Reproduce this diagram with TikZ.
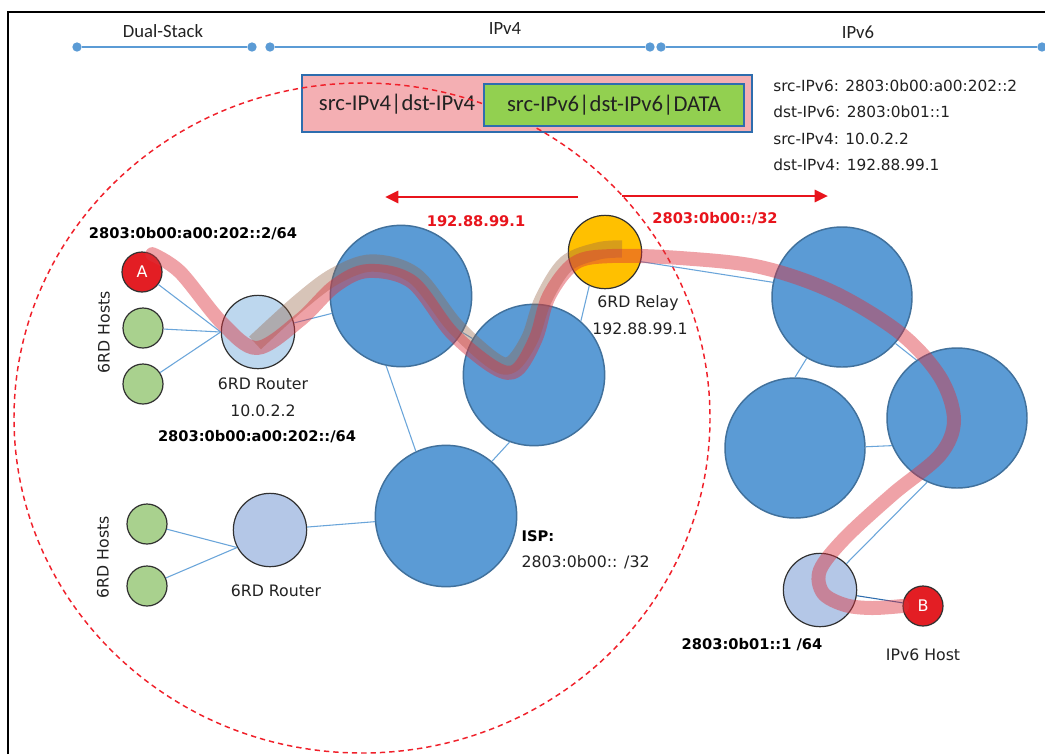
\documentclass[tikz,border=0pt]{standalone}
\usepackage{fontspec}
\setmainfont{DejaVu Sans}
\newfontfamily\calib{Carlito}
\usetikzlibrary{arrows.meta}

\definecolor{coreblue}{HTML}{5B9BD5}
\definecolor{coreedge}{HTML}{41719C}
\definecolor{linkblue}{HTML}{6AA5DA}
\definecolor{rtrblue}{HTML}{B4C7E7}
\definecolor{rtrpale}{HTML}{BDD7EE}
\definecolor{hostgreen}{HTML}{A9D18E}
\definecolor{endred}{HTML}{E31E24}
\definecolor{relayyellow}{HTML}{FFC000}
\definecolor{edgegray}{HTML}{303030}
\definecolor{pinkbox}{HTML}{F4AFB3}
\definecolor{greenbox}{HTML}{92D050}
\definecolor{boxedge}{HTML}{2E6DAE}
\definecolor{routered}{RGB}{220,50,60}
\definecolor{tunneltan}{RGB}{150,100,70}
\definecolor{arrowred}{HTML}{E8141C}
\definecolor{dashred}{HTML}{F0202A}
\definecolor{textgray}{HTML}{222222}

\tikzset{
  link/.style={draw=linkblue, line width=0.8pt},
  core/.style={circle, draw=coreedge, fill=coreblue, line width=1.1pt,
    minimum size=#1, inner sep=0pt},
  core/.default=106pt,
  rtr/.style={circle, draw=edgegray, fill=rtrblue, line width=0.9pt,
    minimum size=55pt, inner sep=0pt},
  host/.style={circle, draw=edgegray, fill=hostgreen, line width=0.9pt,
    minimum size=30pt, inner sep=0pt},
  endhost/.style={circle, draw=edgegray, fill=endred, line width=0.9pt,
    minimum size=30pt, inner sep=0pt, text=white,
    font=\fontsize{12}{12}\selectfont},
  lbl/.style={font=\fontsize{11.8}{13}\selectfont, text=textgray, inner sep=1pt},
  addr/.style={font=\bfseries\fontsize{11}{13}\selectfont, text=black, inner sep=1pt},
  redlbl/.style={font=\bfseries\fontsize{11}{13}\selectfont, text=arrowred, inner sep=1pt},
  info/.style={font=\fontsize{11.5}{13}\selectfont, text=textgray, anchor=west, inner sep=0pt},
  zone/.style={font=\calib\fontsize{14}{16}\selectfont, text=textgray, inner sep=1pt},
  pkt/.style={font=\calib\fontsize{17}{19}\selectfont, text=textgray, inner sep=0pt},
  route/.style={line width=10.5pt, draw=routered, draw opacity=0.45,
    line cap=round, line join=round},
  tunnel/.style={line width=13pt, draw=tunneltan, draw opacity=0.38,
    line cap=butt, line join=round},
  flow/.style={draw=arrowred, line width=2.2pt, -{Triangle[length=10pt,width=9pt]}},
  span/.style={draw=coreblue, line width=1.1pt},
  tick/.style={circle, fill=coreblue, inner sep=0pt, minimum size=7pt},
}

\begin{document}
\begin{tikzpicture}[x=0.75pt,y=-0.75pt]
\useasboundingbox (0,0) rectangle (1045,754);
\fill[white] (0,0) rectangle (1045,754);

% outer frame (only its top and left edges fall inside the page)
\draw[black, line width=1.2pt] (8,754) -- (8,12) -- (1045,12);

% ---------- address-family spans ----------
\node[tick] (d0) at (77,47) {};
\node[tick] (d1) at (252,47) {};
\node[tick] (v40) at (270,47) {};
\node[tick] (v41) at (650,47) {};
\node[tick] (v60) at (661,47) {};
\node[tick] (v61) at (1042,47) {};
\draw[span] (d0) -- (d1);
\draw[span] (v40) -- (v41);
\draw[span] (v60) -- (v61);
\node[zone] (zds) at (163,31) {Dual-Stack};
\node[zone] (zv4) at (505,29) {IPv4};
\node[zone] (zv6) at (858,32) {IPv6};

% ---------- encapsulated packet ----------
\node[draw=boxedge, fill=pinkbox, line width=1.5pt, minimum width=337.5pt,
  minimum height=42.75pt, inner sep=0pt] (outer) at (527,103.5) {};
\node[pkt] (hdr4) at (397,104) {src-IPv4|dst-IPv4};

% 6RD domain boundary
\draw[dashred, line width=1.1pt, dash pattern=on 4pt off 3pt]
  (362,418) ellipse [x radius=348, y radius=335];

\node[draw=boxedge, fill=greenbox, line width=1.5pt, minimum width=195pt,
  minimum height=31.5pt, inner sep=0pt] (inner) at (614,105) {};
\node[pkt] (hdr6) at (614,105) {src-IPv6|dst-IPv6|DATA};

\node[info] (i1) at (773,86) {src-IPv6: 2803:0b00:a00:202::2};
\node[info] (i2) at (773,112) {dst-IPv6: 2803:0b01::1};
\node[info] (i3) at (773,139) {src-IPv4: 10.0.2.2};
\node[info] (i4) at (773,165) {dst-IPv4: 192.88.99.1};

% ---------- direction arrows ----------
\coordinate (al0) at (578,197);
\coordinate (al1) at (385,197);
\coordinate (ar0) at (622,196);
\coordinate (ar1) at (828,196);
\draw[flow] (al0) -- (al1);
\draw[flow] (ar0) -- (ar1);
\node[redlbl] (lr4) at (476,221) {192.88.99.1};
\node[redlbl] (lr6) at (715,219) {2803:0b00::/32};

% ---------- nodes ----------
\node[endhost] (A) at (142,272) {A};
\node[host] (h1) at (143,328) {};
\node[host] (h2) at (143,384) {};
\node[rtr, fill=rtrpale] (r1) at (258,332) {};
\node[core] (c1) at (401,296) {};
\node[core] (c2) at (534,375) {};
\node[core] (isp) at (446,516) {};
\node[rtr, fill=relayyellow] (relay) at (605,252) {};
\node[host] (h3) at (147,524) {};
\node[host] (h4) at (147,586) {};
\node[rtr] (r2) at (270,530) {};
\node[core=105pt] (n1) at (842,297) {};
\node[core=105pt] (n2) at (795,448) {};
\node[core=105pt] (n3) at (957,418) {};
\node[rtr] (r6) at (820,590) {};
\node[endhost] (B) at (923,606) {B};

% ---------- links ----------
\draw[link] (A) -- (r1.180);
\draw[link] (h1) -- (r1.180);
\draw[link] (h2) -- (r1.180);
\draw[link] (r1) -- (c1);
\draw[link] (c1) -- (c2);
\draw[link] (c1.258) -- (isp.115);
\draw[link] (c2.250) -- (isp.50);
\draw[link] (relay.245) -- (c2.49);
\draw[link] (relay.-15) -- (n1.168);
\draw[link] (n1.240) -- (n2.90);
\draw[link] (n1.-41) -- (n3.125);
\draw[link] (n2.1) -- (n3.203);
\draw[link] (n3.245) -- (r6.45);
\draw[link, draw=boxedge] (r6) -- (B);
\draw[link] (h3) -- (r2.208);
\draw[link] (h4) -- (r2.208);
\draw[link] (r2) -- (isp);

% ---------- labels ----------
\node[addr] (aA) at (193,234) {2803:0b00:a00:202::2/64};
\node[lbl, rotate=90] (hs1) at (104,332) {6RD Hosts};
\node[lbl] (lr1) at (263,384) {6RD Router};
\node[lbl] (ip1) at (263,411) {10.0.2.2};
\node[addr] (p1) at (257,437) {2803:0b00:a00:202::/64};
\node[lbl] (lrel) at (638,303) {6RD Relay};
\node[lbl] (iprel) at (640,329) {192.88.99.1};
\node[addr, anchor=west] (lisp) at (520,536) {ISP:};
\node[lbl, anchor=west] (pisp) at (520,562) {2803:0b00:: /32};
\node[lbl, rotate=90] (hs2) at (103,557) {6RD Hosts};
\node[lbl] (lr2) at (276,591) {6RD Router};
\node[addr] (p6) at (752,645) {2803:0b01::1 /64};
\node[lbl] (lB) at (923,655) {IPv6 Host};

% ---------- tunnel (IPv4) and end-to-end route (IPv6) ----------
\coordinate (t0) at (255,343);
\coordinate (t1) at (300,302);
\coordinate (t2) at (335,276);
\coordinate (t3) at (372,263);
\coordinate (t4) at (415,276);
\coordinate (t5) at (455,326);
\coordinate (t6) at (494,361);
\coordinate (t7) at (512,364);
\coordinate (t8) at (530,338);
\coordinate (t9) at (543,300);
\coordinate (t10) at (566,264);
\coordinate (t11) at (598,251);
\coordinate (t12) at (622,249);
\draw[tunnel] plot[smooth, tension=0.55] coordinates
  {(t0) (t1) (t2) (t3) (t4) (t5) (t6) (t7) (t8) (t9) (t10) (t11) (t12)};

\coordinate (w0) at (180,272);
\coordinate (w1) at (222,323);
\coordinate (w2) at (257,348);
\coordinate (w3) at (300,320);
\coordinate (w4) at (335,286);
\coordinate (w5) at (368,271);
\coordinate (w6) at (412,282);
\coordinate (w7) at (452,333);
\coordinate (w8) at (495,368);
\coordinate (w9) at (517,370);
\coordinate (w10) at (536,338);
\coordinate (w11) at (549,296);
\coordinate (w12) at (575,263);
\coordinate (w13) at (612,256);
\coordinate (w14) at (680,258);
\coordinate (w15) at (760,267);
\coordinate (w16) at (833,292);
\coordinate (w17) at (900,333);
\coordinate (w18) at (940,377);
\coordinate (w19) at (954,420);
\coordinate (w20) at (940,455);
\coordinate (w21) at (893,494);
\coordinate (w22) at (845,538);
\coordinate (w23) at (820,570);
\coordinate (w24) at (823,593);
\coordinate (w25) at (845,605);
\coordinate (w26) at (872,608);
\draw[route] plot[smooth, tension=0.55] coordinates
  {(A.60) (w0) (w1) (w2) (w3) (w4) (w5) (w6) (w7) (w8) (w9) (w10) (w11) (w12)
   (w13) (w14) (w15) (w16) (w17) (w18) (w19) (w20) (w21) (w22) (w23) (w24)
   (w25) (w26) (B.west)};
\end{tikzpicture}
\end{document}
